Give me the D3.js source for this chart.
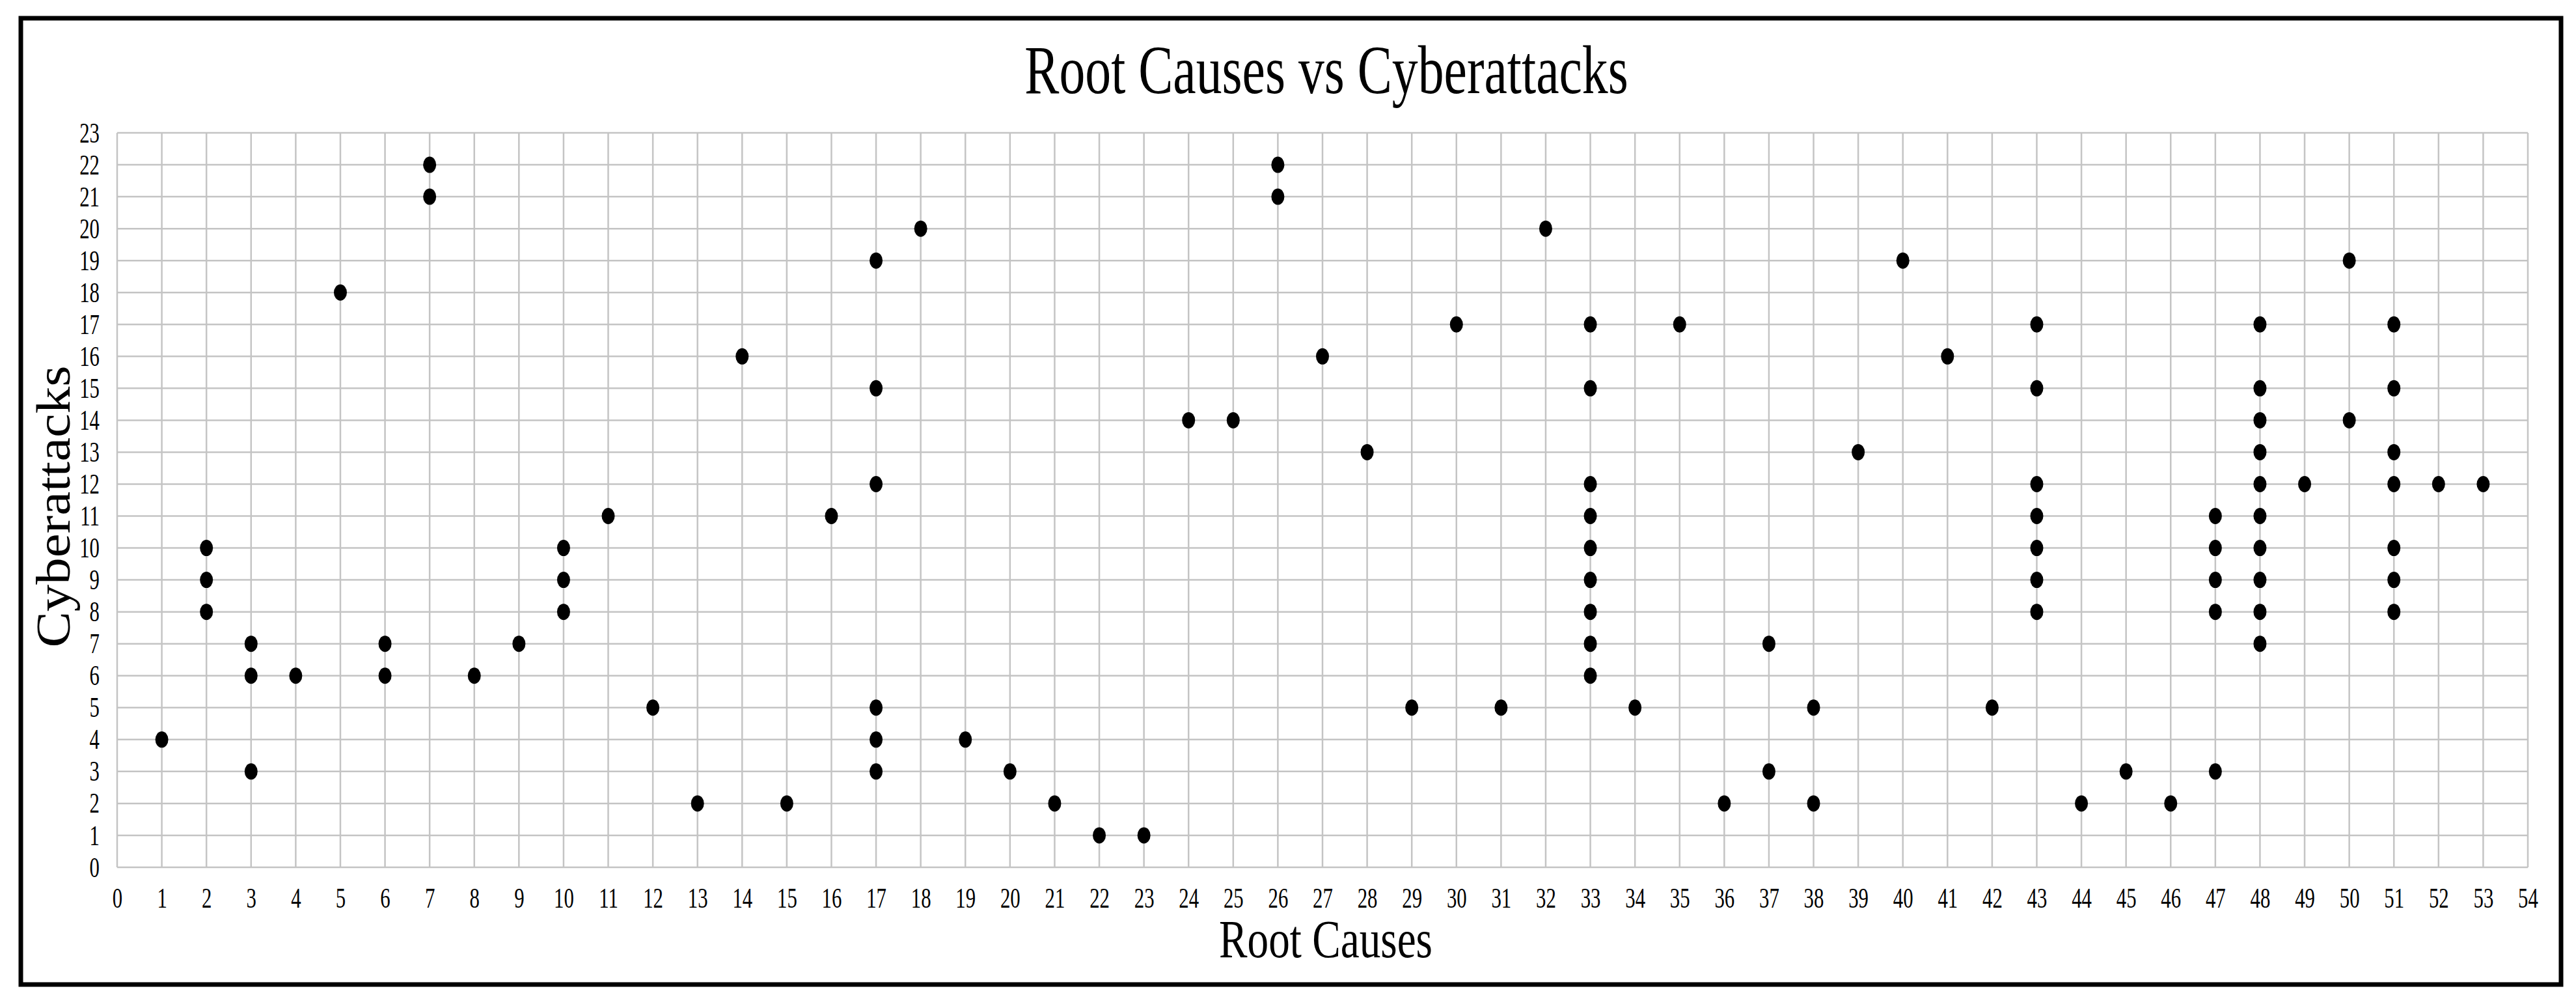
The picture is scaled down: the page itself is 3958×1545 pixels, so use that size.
<!DOCTYPE html>
<html>
<head>
<meta charset="utf-8">
<script src="https://cdn.jsdelivr.net/npm/d3@7"></script>
<style>
  html, body { margin: 0; padding: 0; background: #ffffff; }
  svg { display: block; }
  text { font-family: "Liberation Serif", "Times New Roman", serif; fill: #000; }
</style>
</head>
<body>
<script>
// ---- data ----
const rootCauses = [
  1, 2,2,2, 3,3,3, 4, 5, 6,6, 7,7, 8, 9, 10,10,10, 11, 12, 13, 14, 15, 16,
  17,17,17,17,17,17, 18, 19, 20, 21, 22, 23, 24, 25, 26,26, 27, 28, 29, 30, 31, 32,
  33,33,33,33,33,33,33,33,33, 34, 35, 36, 37,37, 38,38, 39, 40, 41, 42,
  43,43,43,43,43,43,43, 44, 45, 46, 47,47,47,47,47,
  48,48,48,48,48,48,48,48,48,48, 49, 50,50, 51,51,51,51,51,51,51, 52, 53
];
const cyberattacks = [
  4, 8,9,10, 3,6,7, 6, 18, 6,7, 21,22, 6, 7, 8,9,10, 11, 5, 2, 16, 2, 11,
  3,4,5,12,15,19, 20, 4, 3, 2, 1, 1, 14, 14, 21,22, 16, 13, 5, 17, 5, 20,
  6,7,8,9,10,11,12,15,17, 5, 17, 2, 3,7, 2,5, 13, 19, 16, 5,
  8,9,10,11,12,15,17, 2, 3, 2, 3,8,9,10,11,
  7,8,9,10,11,12,13,14,15,17, 12, 14,19, 8,9,10,12,13,15,17, 12, 12
];
const xTicks = d3.range(0, 55);
const yTicks = d3.range(0, 24);
const titleText = "Root Causes vs Cyberattacks";
const xTitle = "Root Causes";
const yTitle = "Cyberattacks";

// ---- layout ----
const W = 3958, H = 1545;
const svg = d3.select("body").append("svg").attr("width", W).attr("height", H);
svg.append("rect").attr("width", W).attr("height", H).attr("fill", "#fff");

const x = d3.scaleLinear().domain([0, 54]).range([180, 3884]);
const y = d3.scaleLinear().domain([0, 23]).range([1332, 204]);

const gridColor = "#c4c4c4";
const grid = svg.append("g");
grid.selectAll("line.v").data(xTicks).enter().append("line")
  .attr("x1", d => x(d)).attr("x2", d => x(d))
  .attr("y1", y(23)).attr("y2", y(0))
  .attr("stroke", gridColor).attr("stroke-width", 2.5);
grid.selectAll("line.h").data(yTicks).enter().append("line")
  .attr("x1", x(0)).attr("x2", x(54))
  .attr("y1", d => y(d)).attr("y2", d => y(d))
  .attr("stroke", gridColor).attr("stroke-width", 2.5);

// axes (labels only)
const tickSX = 0.7;
const xAxis = svg.append("g").attr("transform", `translate(0,${y(0)})`)
  .call(d3.axisBottom(x).tickValues(xTicks).tickSize(0).tickPadding(0).tickFormat(d3.format("d")));
xAxis.select(".domain").remove();
xAxis.selectAll("text")
  .attr("y", 62).attr("dy", null)
  .attr("font-size", 44)
  .attr("font-family", "Liberation Serif, Times New Roman, serif")
  .attr("transform", `scale(${tickSX},1)`);

const yAxis = svg.append("g").attr("transform", `translate(${x(0)},0)`)
  .call(d3.axisLeft(y).tickValues(yTicks).tickSize(0).tickPadding(0).tickFormat(d3.format("d")));
yAxis.select(".domain").remove();
yAxis.selectAll("text")
  .attr("x", -27 / tickSX).attr("dy", "0.32em")
  .attr("font-size", 44)
  .attr("font-family", "Liberation Serif, Times New Roman, serif")
  .attr("transform", `scale(${tickSX},1)`);

// points
svg.append("g").selectAll("ellipse").data(rootCauses).enter().append("ellipse")
  .attr("cx", (d, i) => x(d))
  .attr("cy", (d, i) => y(cyberattacks[i]))
  .attr("rx", 10).attr("ry", 12.5)
  .attr("fill", "#000");

// titles
svg.append("text").text(titleText)
  .attr("text-anchor", "middle").attr("font-size", 106)
  .attr("transform", `translate(2038,143) scale(0.752,1)`);

svg.append("text").text(xTitle)
  .attr("text-anchor", "middle").attr("font-size", 83)
  .attr("transform", `translate(2037,1470) scale(0.786,1)`);

svg.append("text").text(yTitle)
  .attr("text-anchor", "middle").attr("font-size", 83)
  .attr("transform", `translate(107,778) scale(0.88,1) rotate(-90)`);

// frame
svg.append("rect")
  .attr("x", 32).attr("y", 28).attr("width", 3903).attr("height", 1484)
  .attr("fill", "none").attr("stroke", "#000").attr("stroke-width", 7);
</script>
</body>
</html>
